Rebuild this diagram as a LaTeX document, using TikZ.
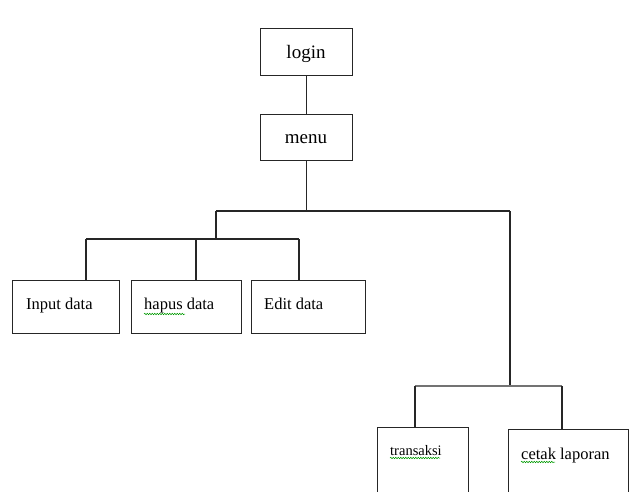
\documentclass[tikz,border=0pt]{standalone}
\usepackage{fontspec}
\setmainfont{Liberation Serif}
\usetikzlibrary{decorations.pathmorphing}
\begin{document}
\begin{tikzpicture}[x=1pt,y=-1pt,
  box/.style={draw=black!85,line width=1.1pt,rectangle,inner sep=0pt,anchor=north west},
  lbl/.style={inner sep=0pt,font=\fontsize{16.5}{18}\selectfont},
  conn/.style={draw=black!85,line width=1.1pt},
  spell/.style={draw=green!60!black,line width=0.5pt,decorate,decoration={snake,amplitude=0.8pt,segment length=2.5pt}}]
\useasboundingbox (0,0) rectangle (629,491);
\clip (0,0) rectangle (629,491);
% boxes
\node[box,minimum width=92pt,minimum height=47pt] (login) at (260,28) {};
\node[box,minimum width=92pt,minimum height=46pt] (menu) at (260,114) {};
\node[box,minimum width=107pt,minimum height=53pt] (input) at (12,280) {};
\node[box,minimum width=110pt,minimum height=53pt] (hapus) at (131,280) {};
\node[box,minimum width=114pt,minimum height=53pt] (edit) at (251,280) {};
\node[box,minimum width=91pt,minimum height=80pt] (trans) at (377,427) {};
\node[box,minimum width=120pt,minimum height=80pt] (cetak) at (508,429) {};
% labels
\node[lbl,font=\fontsize{19}{21}\selectfont,anchor=base] (tlogin) at (306,58) {login};
\node[lbl,font=\fontsize{19}{21}\selectfont,anchor=base] (tmenu) at (306,143) {menu};
\node[lbl,anchor=base west] (tinput) at (26,309) {Input data};
\node[lbl,anchor=base west] (thapus) at (144,309) {hapus data};
\node[lbl,anchor=base west] (tedit) at (264,309) {Edit data};
\node[lbl,font=\fontsize{14.5}{16}\selectfont,anchor=base west] (ttrans) at (390,455) {transaksi};
\node[lbl,anchor=base west] (tcetak) at (521,459) {cetak laporan};
% spell-check marks
\draw[spell] (144,314) -- (185,314);
\draw[spell] (390,458) -- (440,458);
\draw[spell] (521,462) -- (555,462);
% junction coordinates
\coordinate (j1) at (menu.south |- 0,211);
\coordinate (jl) at (216,211);
\coordinate (jr) at (510,211);
\coordinate (jl2) at (216,239);
\coordinate (hl) at (86,239);
\coordinate (hr) at (299,239);
\coordinate (jr2) at (510,386);
\coordinate (rl) at (415,386);
\coordinate (rr) at (562,386);
% connectors
\draw[conn] (login.south) -- (menu.north);
\draw[conn] (menu.south) -- (j1);
\draw[conn] (jl) -- (jr);
\draw[conn] (jl) -- (jl2);
\draw[conn] (hl) -- (hr);
\draw[conn] (hl) -- (hl |- input.north);
\draw[conn] (196,239) -- (196,280);
\draw[conn] (hr) -- (hr |- edit.north);
\draw[conn] (jr) -- (jr2);
\draw[draw=black!55,line width=2pt] (rl) -- (rr);
\draw[conn] (rl) -- (rl |- trans.north);
\draw[conn] (rr) -- (rr |- cetak.north);
\end{tikzpicture}
\end{document}
